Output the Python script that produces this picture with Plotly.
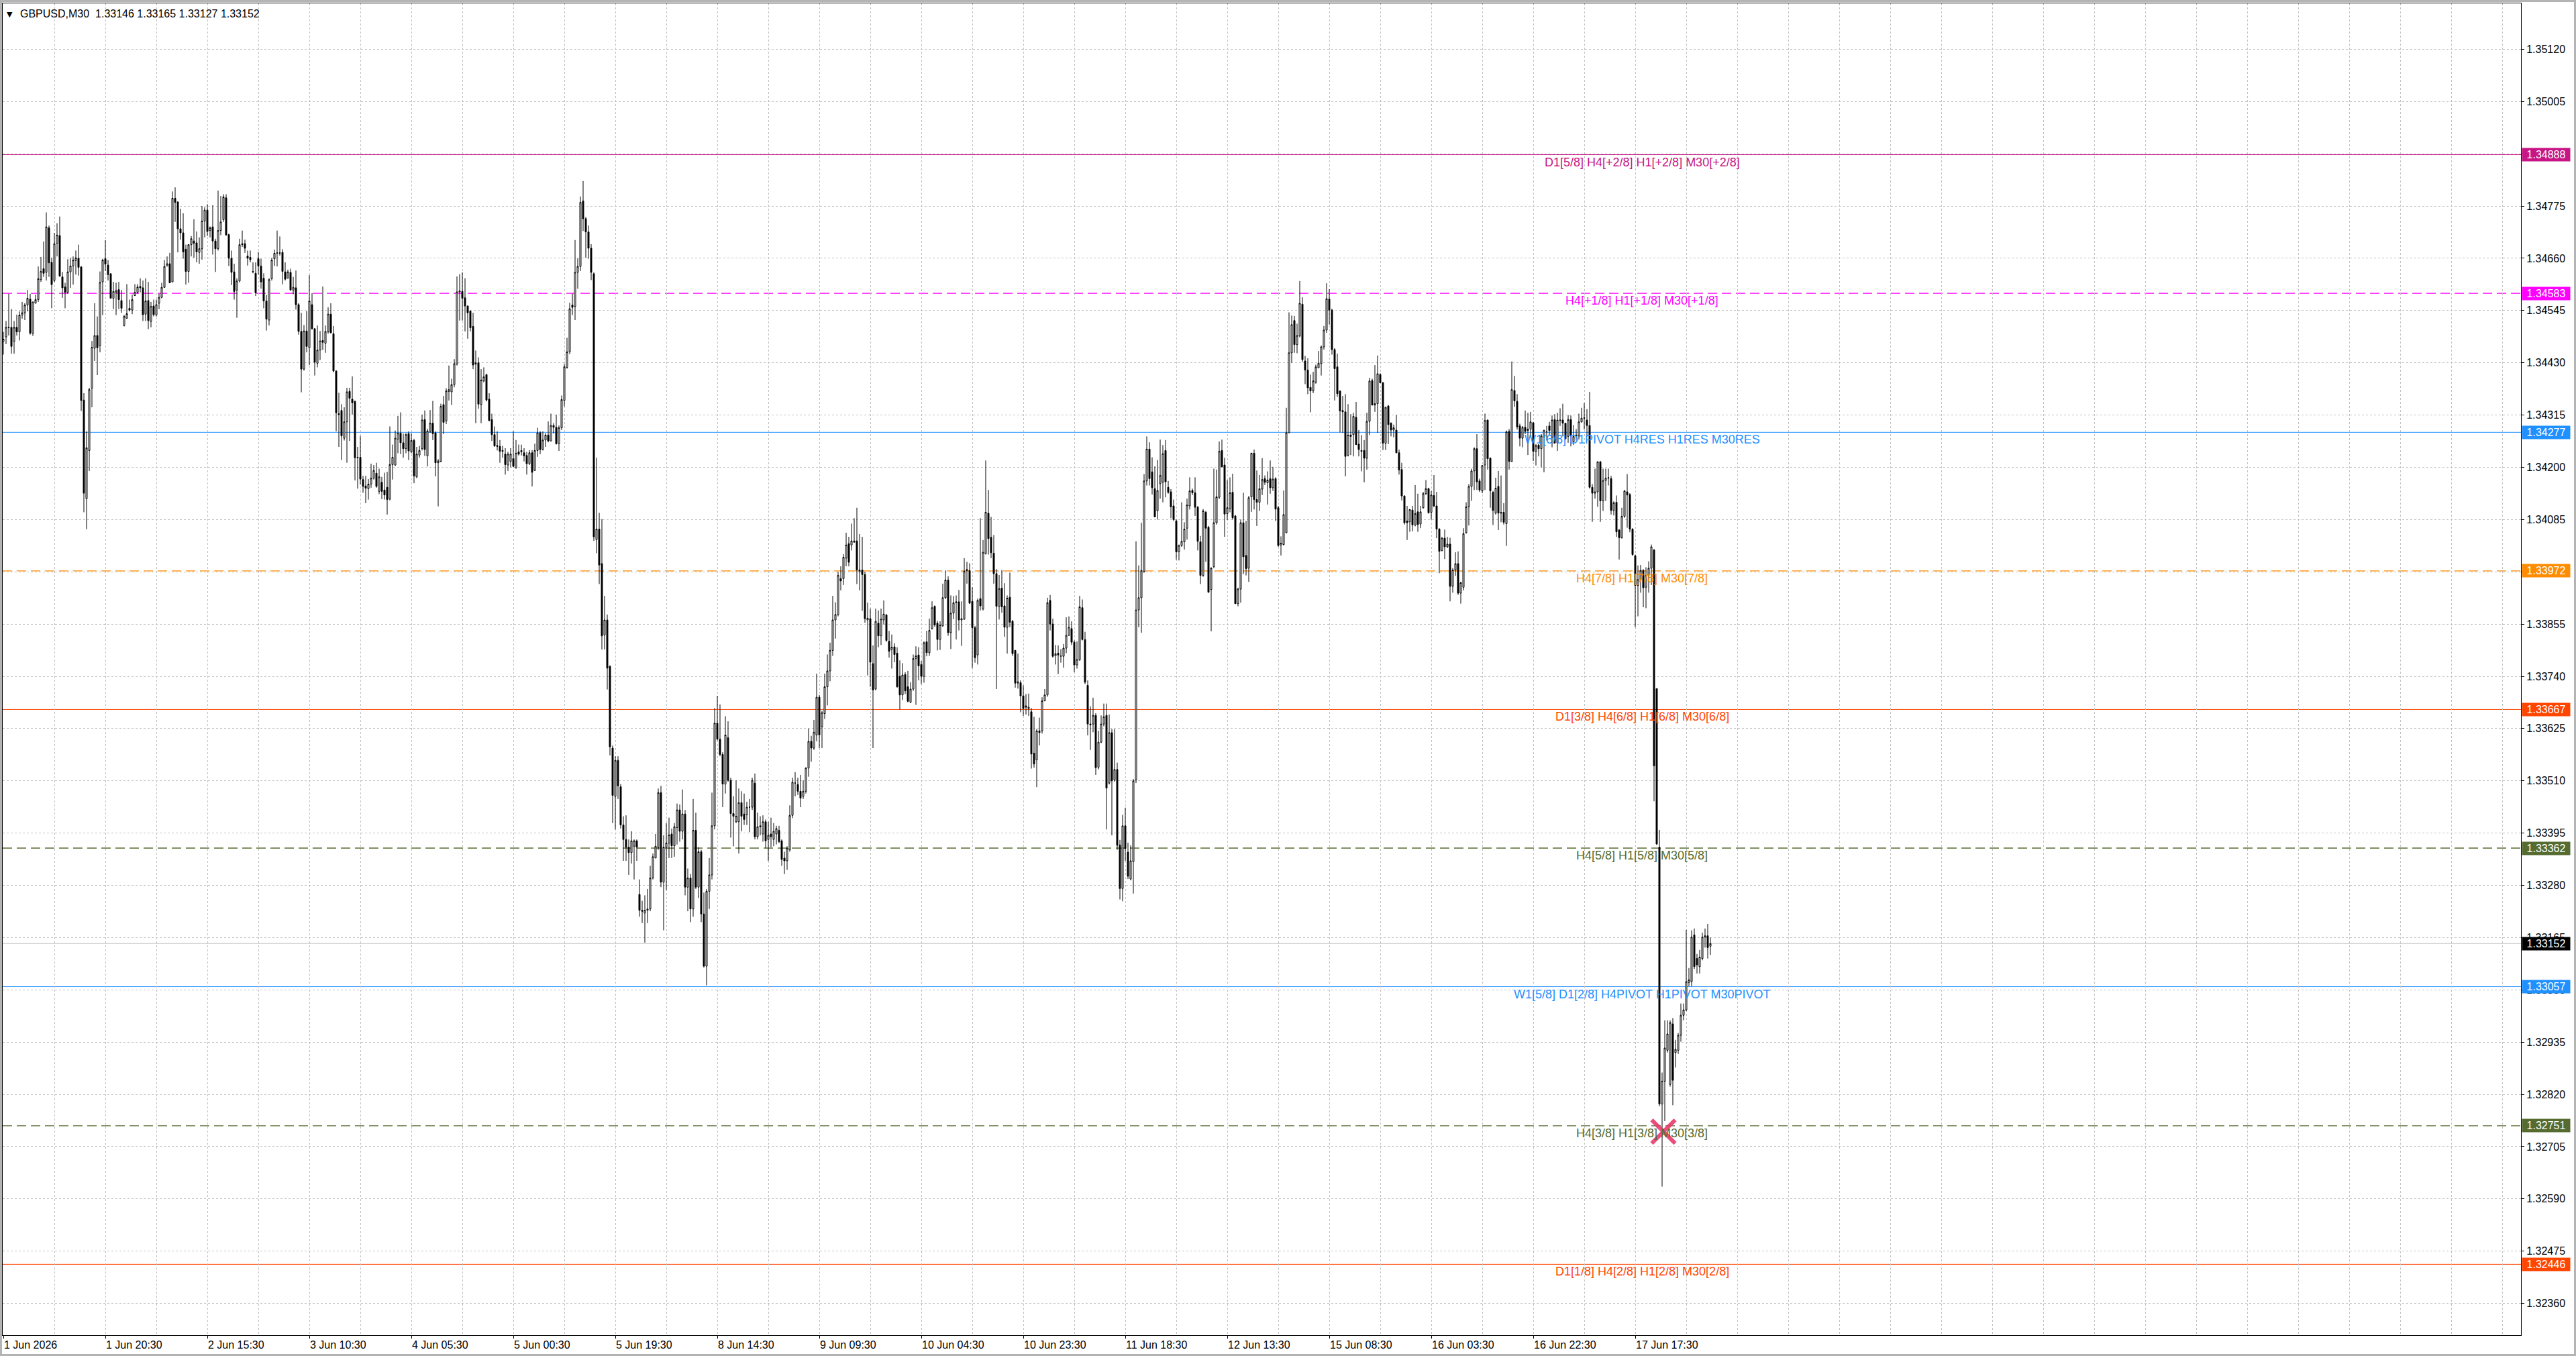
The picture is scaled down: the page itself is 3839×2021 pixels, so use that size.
import plotly.graph_objects as go

# GBPUSD M30 candles, in points above 1.30000 (1 point = 0.00001)
open_pts = [
    4477, 4487, 4507, 4508, 4477, 4508, 4498, 4535, 4540, 4557, 4570, 4495, 4561, 4569, 4613, 4637, 4629, 4727, 4651, 4611,
    4693, 4710, 4619, 4597, 4585, 4630, 4643, 4655, 4660, 4641, 4348, 4131, 4237, 4374, 4462, 4490, 4468, 4608, 4659, 4645,
    4626, 4572, 4585, 4591, 4567, 4512, 4528, 4550, 4546, 4578, 4585, 4598, 4595, 4537, 4567, 4521, 4555, 4535, 4561, 4574,
    4596, 4643, 4648, 4608, 4792, 4784, 4725, 4716, 4680, 4631, 4690, 4698, 4694, 4673, 4681, 4742, 4766, 4721, 4729, 4698,
    4681, 4721, 4745, 4793, 4712, 4660, 4630, 4590, 4610, 4692, 4692, 4665, 4662, 4631, 4627, 4659, 4643, 4616, 4566, 4524,
    4615, 4659, 4671, 4672, 4673, 4630, 4616, 4629, 4590, 4595, 4558, 4499, 4416, 4500, 4463, 4558, 4505, 4429, 4458, 4479,
    4473, 4498, 4537, 4494, 4412, 4318, 4325, 4264, 4300, 4367, 4350, 4345, 4222, 4222, 4173, 4159, 4153, 4163, 4176, 4187,
    4147, 4167, 4150, 4156, 4130, 4206, 4205, 4262, 4275, 4254, 4241, 4274, 4234, 4259, 4179, 4227, 4241, 4305, 4225, 4279,
    4297, 4276, 4210, 4213, 4338, 4302, 4367, 4366, 4382, 4427, 4586, 4587, 4573, 4555, 4544, 4510, 4427, 4430, 4338, 4390,
    4404, 4350, 4305, 4272, 4248, 4246, 4235, 4229, 4205, 4213, 4219, 4199, 4234, 4234, 4232, 4226, 4208, 4232, 4193, 4237,
    4276, 4239, 4260, 4271, 4258, 4292, 4288, 4252, 4287, 4347, 4420, 4454, 4557, 4554, 4629, 4642, 4786, 4747, 4718, 4682,
    4626, 4041, 4064, 3988, 3831, 3864, 3762, 3582, 3476, 3555, 3497, 3413, 3381, 3364, 3352, 3366, 3378, 3260, 3225, 3219,
    3225, 3228, 3296, 3340, 3364, 3484, 3287, 3364, 3373, 3393, 3367, 3407, 3446, 3399, 3437, 3276, 3296, 3228, 3401, 3276,
    3354, 3217, 3102, 3267, 3303, 3411, 3637, 3602, 3568, 3503, 3605, 3511, 3438, 3420, 3420, 3462, 3437, 3435, 3452, 3452,
    3505, 3387, 3411, 3393, 3420, 3381, 3393, 3381, 3393, 3401, 3378, 3340, 3334, 3358, 3434, 3505, 3502, 3487, 3476, 3487,
    3538, 3597, 3582, 3611, 3694, 3629, 3658, 3717, 3752, 3797, 3864, 3876, 3955, 3955, 4000, 4032, 4029, 4035, 4038, 3970,
    3974, 3964, 3864, 3867, 3768, 3712, 3857, 3829, 3864, 3875, 3817, 3799, 3805, 3791, 3740, 3699, 3744, 3717, 3683, 3712,
    3779, 3787, 3766, 3740, 3816, 3792, 3845, 3894, 3857, 3821, 3851, 3913, 3952, 3836, 3879, 3902, 3904, 3864, 3866, 3975,
    3973, 3905, 3847, 3787, 3911, 3888, 4010, 4099, 4046, 4011, 3966, 3894, 3934, 3895, 3848, 3914, 3861, 3797, 3725, 3726,
    3697, 3675, 3669, 3662, 3571, 3556, 3620, 3620, 3686, 3699, 3907, 3855, 3785, 3791, 3784, 3784, 3802, 3830, 3845, 3815,
    3765, 3776, 3891, 3821, 3720, 3635, 3635, 3654, 3540, 3595, 3635, 3654, 3505, 3616, 3512, 3535, 3369, 3273, 3411, 3353,
    3294, 3332, 3512, 3886, 3913, 3971, 4170, 4240, 4190, 4153, 4104, 4164, 4167, 4237, 4156, 4146, 4115, 4082, 4014, 4028,
    4036, 4066, 4115, 4149, 4144, 4112, 4036, 3962, 4101, 4068, 3931, 3981, 4078, 4134, 4237, 4205, 4098, 4109, 4145, 4093,
    3900, 3932, 4078, 4006, 3978, 4135, 4231, 4129, 4123, 4152, 4175, 4166, 4175, 4155, 4175, 4111, 4029, 4030, 4056, 4276,
    4452, 4523, 4470, 4489, 4559, 4434, 4414, 4376, 4368, 4387, 4419, 4428, 4465, 4502, 4570, 4546, 4459, 4421, 4368, 4325,
    4322, 4226, 4271, 4272, 4310, 4251, 4237, 4237, 4220, 4301, 4391, 4337, 4340, 4404, 4386, 4253, 4335, 4297, 4282, 4282,
    4232, 4195, 4137, 4082, 4080, 4106, 4073, 4102, 4075, 4111, 4142, 4153, 4101, 4138, 4115, 4064, 4017, 4044, 4025, 4031,
    3938, 3974, 3988, 3923, 3936, 4056, 4113, 4158, 4192, 4241, 4170, 4148, 4205, 4304, 4220, 4145, 4099, 4158, 4099, 4101,
    4076, 4279, 4213, 4369, 4345, 4291, 4264, 4288, 4281, 4284, 4298, 4235, 4249, 4241, 4266, 4278, 4291, 4266, 4305, 4254,
    4303, 4304, 4297, 4268, 4305, 4256, 4268, 4269, 4300, 4308, 4304, 4292, 4156, 4143, 4146, 4212, 4126, 4171, 4176, 4175,
    4105, 4123, 4062, 4045, 4092, 4146, 4140, 4064, 4005, 3940, 3953, 3973, 3936, 3962, 3978, 4018, 3713, 3364, 2799, 2849,
    2917, 2842, 2975, 2912, 2917, 2950, 2994, 3006, 3066, 3068, 3171, 3119, 3101, 3119, 3166, 3169, 3146,
]
high_pts = [
    4498, 4522, 4582, 4548, 4522, 4536, 4543, 4564, 4561, 4590, 4582, 4564, 4580, 4642, 4663, 4697, 4761, 4732, 4661, 4716,
    4737, 4752, 4630, 4606, 4658, 4661, 4664, 4677, 4690, 4642, 4363, 4279, 4375, 4478, 4561, 4532, 4631, 4659, 4700, 4656,
    4627, 4608, 4606, 4608, 4590, 4535, 4603, 4569, 4580, 4603, 4603, 4616, 4611, 4616, 4608, 4564, 4569, 4569, 4582, 4606,
    4656, 4664, 4672, 4807, 4816, 4785, 4769, 4759, 4690, 4691, 4709, 4746, 4719, 4706, 4775, 4772, 4779, 4730, 4777, 4703,
    4809, 4797, 4801, 4801, 4714, 4677, 4648, 4616, 4703, 4721, 4701, 4677, 4677, 4651, 4651, 4674, 4659, 4627, 4579, 4616,
    4661, 4679, 4721, 4708, 4680, 4651, 4635, 4637, 4619, 4633, 4561, 4540, 4513, 4544, 4623, 4583, 4506, 4512, 4500, 4598,
    4512, 4552, 4561, 4511, 4413, 4364, 4339, 4332, 4375, 4375, 4400, 4347, 4245, 4269, 4181, 4181, 4174, 4208, 4205, 4210,
    4197, 4179, 4188, 4190, 4290, 4250, 4281, 4313, 4321, 4274, 4275, 4279, 4275, 4263, 4245, 4247, 4316, 4325, 4285, 4326,
    4346, 4279, 4218, 4340, 4357, 4374, 4424, 4395, 4438, 4620, 4625, 4629, 4616, 4556, 4545, 4540, 4457, 4442, 4416, 4420,
    4405, 4363, 4318, 4290, 4279, 4260, 4247, 4242, 4234, 4242, 4279, 4260, 4250, 4250, 4242, 4234, 4238, 4238, 4252, 4287,
    4279, 4279, 4275, 4301, 4318, 4297, 4316, 4292, 4358, 4427, 4485, 4562, 4582, 4700, 4660, 4796, 4830, 4751, 4732, 4691,
    4629, 4221, 4100, 4086, 3917, 3876, 3764, 3588, 3564, 3564, 3503, 3432, 3434, 3381, 3399, 3381, 3381, 3293, 3246, 3258,
    3272, 3323, 3350, 3393, 3493, 3499, 3390, 3417, 3429, 3405, 3417, 3460, 3458, 3491, 3446, 3317, 3305, 3470, 3440, 3364,
    3358, 3264, 3272, 3340, 3484, 3670, 3697, 3678, 3573, 3652, 3641, 3517, 3476, 3511, 3493, 3487, 3482, 3464, 3470, 3517,
    3526, 3440, 3432, 3434, 3425, 3420, 3429, 3417, 3411, 3411, 3381, 3354, 3366, 3456, 3517, 3529, 3517, 3523, 3511, 3540,
    3625, 3609, 3644, 3746, 3699, 3664, 3746, 3788, 3814, 3917, 3903, 3970, 3982, 4009, 4056, 4047, 4076, 4088, 4111, 4053,
    4047, 3970, 3902, 3889, 3808, 3889, 3885, 3889, 3907, 3877, 3840, 3832, 3813, 3804, 3775, 3769, 3749, 3752, 3727, 3788,
    3806, 3804, 3774, 3817, 3840, 3867, 3905, 3896, 3862, 3861, 3944, 3973, 3960, 3918, 3917, 3918, 3930, 3905, 4000, 3992,
    3989, 3936, 3851, 3911, 4088, 4040, 4215, 4150, 4091, 4051, 3976, 3963, 3974, 3945, 3918, 3968, 3864, 3798, 3790, 3731,
    3720, 3701, 3702, 3670, 3651, 3624, 3649, 3694, 3712, 3913, 3919, 3867, 3809, 3808, 3800, 3811, 3870, 3872, 3861, 3819,
    3817, 3917, 3909, 3838, 3731, 3674, 3693, 3659, 3620, 3654, 3680, 3680, 3656, 3624, 3624, 3550, 3380, 3435, 3451, 3374,
    3368, 3514, 4037, 3984, 4078, 4185, 4268, 4255, 4222, 4202, 4216, 4261, 4249, 4260, 4170, 4152, 4129, 4085, 4030, 4123,
    4079, 4131, 4178, 4153, 4178, 4115, 4049, 4108, 4104, 4071, 3980, 4197, 4195, 4257, 4261, 4221, 4172, 4178, 4186, 4095,
    3935, 4085, 4144, 4082, 4137, 4232, 4239, 4193, 4183, 4220, 4182, 4191, 4215, 4201, 4178, 4115, 4048, 4149, 4331, 4541,
    4534, 4533, 4516, 4610, 4574, 4445, 4440, 4404, 4410, 4426, 4456, 4468, 4511, 4605, 4592, 4549, 4462, 4450, 4369, 4357,
    4361, 4339, 4317, 4320, 4344, 4282, 4271, 4260, 4320, 4397, 4395, 4425, 4446, 4407, 4388, 4333, 4337, 4299, 4294, 4315,
    4239, 4210, 4138, 4115, 4108, 4115, 4161, 4142, 4115, 4146, 4172, 4155, 4148, 4183, 4146, 4066, 4047, 4063, 4047, 4045,
    3978, 4013, 4015, 3948, 4066, 4123, 4163, 4197, 4244, 4273, 4175, 4205, 4318, 4305, 4222, 4148, 4177, 4192, 4182, 4121,
    4281, 4284, 4433, 4401, 4361, 4296, 4291, 4325, 4320, 4322, 4300, 4251, 4251, 4273, 4283, 4291, 4300, 4314, 4317, 4320,
    4330, 4340, 4298, 4315, 4314, 4293, 4284, 4318, 4331, 4341, 4328, 4366, 4163, 4197, 4213, 4214, 4197, 4197, 4197, 4181,
    4125, 4138, 4064, 4111, 4150, 4185, 4143, 4066, 4008, 3984, 3985, 3976, 3980, 3993, 4030, 4020, 3713, 3402, 2868, 2983,
    2983, 2983, 2988, 2940, 2955, 3020, 3020, 3182, 3098, 3181, 3185, 3129, 3138, 3176, 3185, 3195, 3165,
]
low_pts = [
    4448, 4471, 4490, 4450, 4450, 4490, 4479, 4527, 4524, 4543, 4492, 4489, 4561, 4564, 4608, 4619, 4611, 4619, 4550, 4608,
    4664, 4619, 4573, 4550, 4582, 4595, 4602, 4624, 4622, 4324, 4101, 4064, 4192, 4332, 4434, 4403, 4453, 4535, 4632, 4611,
    4572, 4548, 4535, 4548, 4540, 4510, 4527, 4543, 4537, 4577, 4582, 4585, 4522, 4522, 4504, 4508, 4532, 4532, 4548, 4572,
    4595, 4642, 4605, 4607, 4740, 4673, 4701, 4659, 4602, 4606, 4664, 4661, 4651, 4648, 4657, 4706, 4709, 4706, 4668, 4630,
    4677, 4711, 4740, 4710, 4643, 4601, 4569, 4529, 4607, 4685, 4672, 4644, 4651, 4627, 4577, 4624, 4593, 4550, 4501, 4512,
    4611, 4643, 4642, 4666, 4603, 4611, 4616, 4589, 4581, 4547, 4492, 4365, 4413, 4453, 4425, 4503, 4402, 4420, 4436, 4458,
    4452, 4494, 4495, 4409, 4279, 4245, 4216, 4259, 4210, 4258, 4316, 4171, 4153, 4162, 4144, 4121, 4129, 4155, 4173, 4155,
    4141, 4130, 4129, 4096, 4127, 4173, 4203, 4231, 4229, 4221, 4231, 4216, 4231, 4165, 4176, 4221, 4237, 4225, 4202, 4276,
    4260, 4180, 4114, 4211, 4273, 4295, 4347, 4337, 4376, 4424, 4523, 4523, 4499, 4483, 4499, 4416, 4297, 4329, 4297, 4387,
    4345, 4301, 4258, 4245, 4237, 4210, 4221, 4184, 4192, 4200, 4201, 4197, 4226, 4226, 4213, 4184, 4205, 4158, 4192, 4223,
    4229, 4237, 4245, 4255, 4257, 4274, 4250, 4236, 4282, 4334, 4417, 4449, 4535, 4524, 4593, 4632, 4720, 4661, 4659, 4612,
    4038, 4011, 3943, 3799, 3799, 3711, 3566, 3417, 3403, 3470, 3405, 3334, 3334, 3303, 3328, 3293, 3334, 3211, 3197, 3154,
    3197, 3223, 3293, 3340, 3358, 3276, 3181, 3270, 3340, 3340, 3343, 3370, 3376, 3381, 3258, 3223, 3199, 3211, 3272, 3252,
    3199, 3099, 3060, 3228, 3293, 3403, 3599, 3564, 3452, 3482, 3508, 3385, 3366, 3417, 3350, 3399, 3413, 3413, 3397, 3446,
    3381, 3381, 3390, 3376, 3362, 3334, 3364, 3366, 3370, 3373, 3323, 3305, 3314, 3354, 3428, 3476, 3479, 3452, 3470, 3482,
    3519, 3552, 3578, 3597, 3582, 3582, 3646, 3676, 3729, 3785, 3823, 3872, 3929, 3941, 3982, 3982, 4017, 4035, 3943, 3929,
    3884, 3858, 3742, 3717, 3582, 3709, 3804, 3809, 3854, 3816, 3781, 3757, 3771, 3715, 3667, 3688, 3701, 3683, 3681, 3708,
    3677, 3731, 3723, 3726, 3784, 3785, 3843, 3849, 3797, 3798, 3849, 3910, 3829, 3800, 3866, 3821, 3841, 3807, 3864, 3944,
    3899, 3758, 3770, 3766, 3885, 3885, 4008, 4008, 4000, 3944, 3712, 3865, 3880, 3827, 3790, 3848, 3785, 3715, 3713, 3661,
    3653, 3656, 3653, 3537, 3539, 3496, 3588, 3614, 3685, 3695, 3841, 3781, 3766, 3745, 3770, 3759, 3791, 3829, 3809, 3749,
    3757, 3774, 3819, 3723, 3610, 3578, 3617, 3523, 3535, 3593, 3630, 3403, 3502, 3390, 3508, 3358, 3249, 3245, 3334, 3294,
    3291, 3262, 3505, 3848, 3836, 3968, 4160, 4160, 4140, 4090, 4085, 4131, 4123, 4134, 4142, 4088, 4082, 3997, 3995, 4025,
    4019, 4041, 4107, 4139, 4093, 4017, 3943, 3959, 3992, 3924, 3839, 3978, 4074, 4130, 4200, 4047, 4084, 4101, 4085, 3899,
    3894, 3902, 3965, 3962, 3948, 4102, 4107, 4071, 4104, 4139, 4161, 4118, 4142, 4148, 4082, 4025, 4006, 4028, 4055, 4275,
    4430, 4452, 4451, 4486, 4432, 4383, 4361, 4321, 4363, 4384, 4418, 4402, 4459, 4496, 4514, 4448, 4347, 4355, 4277, 4276,
    4180, 4224, 4227, 4224, 4249, 4224, 4191, 4167, 4195, 4271, 4336, 4322, 4276, 4385, 4238, 4238, 4251, 4268, 4266, 4231,
    4184, 4127, 4074, 4040, 4058, 4059, 4070, 4058, 4066, 4109, 4139, 4098, 4085, 4112, 4044, 3967, 4015, 3998, 4022, 3905,
    3924, 3961, 3919, 3900, 3929, 4054, 4072, 4126, 4150, 4150, 4146, 4143, 4150, 4195, 4111, 4073, 4096, 4062, 4079, 4074,
    4027, 4195, 4212, 4333, 4283, 4246, 4244, 4273, 4227, 4266, 4214, 4204, 4224, 4200, 4189, 4259, 4270, 4244, 4251, 4236,
    4291, 4268, 4261, 4254, 4246, 4249, 4259, 4261, 4298, 4283, 4268, 4153, 4080, 4131, 4113, 4080, 4104, 4126, 4160, 4096,
    4094, 4047, 3997, 4043, 4089, 4067, 4057, 4005, 3848, 3872, 3924, 3892, 3890, 3924, 3941, 3465, 3369, 2794, 2617, 2761,
    2912, 2837, 2796, 2879, 2909, 2936, 2983, 3003, 3058, 3058, 3096, 3086, 3086, 3115, 3143, 3119, 3127,
]
close_pts = [
    4482, 4508, 4508, 4466, 4508, 4498, 4535, 4540, 4557, 4572, 4495, 4564, 4569, 4615, 4631, 4627, 4729, 4650, 4602, 4692,
    4711, 4621, 4595, 4585, 4630, 4643, 4656, 4661, 4640, 4347, 4143, 4243, 4371, 4464, 4490, 4463, 4607, 4656, 4647, 4624,
    4572, 4587, 4589, 4569, 4550, 4532, 4538, 4546, 4569, 4585, 4597, 4595, 4536, 4566, 4523, 4554, 4536, 4558, 4574, 4596,
    4642, 4648, 4606, 4792, 4783, 4725, 4716, 4674, 4631, 4690, 4703, 4693, 4674, 4681, 4742, 4766, 4719, 4727, 4698, 4681,
    4721, 4740, 4795, 4711, 4660, 4629, 4587, 4610, 4690, 4690, 4682, 4660, 4657, 4630, 4584, 4643, 4608, 4566, 4526, 4613,
    4656, 4671, 4672, 4671, 4631, 4614, 4630, 4590, 4596, 4558, 4499, 4416, 4500, 4466, 4566, 4505, 4431, 4458, 4478, 4475,
    4499, 4537, 4496, 4412, 4320, 4316, 4269, 4300, 4366, 4352, 4342, 4221, 4221, 4174, 4158, 4154, 4163, 4176, 4193, 4158,
    4179, 4147, 4139, 4129, 4206, 4222, 4264, 4275, 4254, 4241, 4272, 4236, 4259, 4181, 4229, 4237, 4304, 4239, 4280, 4297,
    4274, 4210, 4214, 4334, 4299, 4368, 4371, 4382, 4428, 4586, 4588, 4572, 4555, 4540, 4507, 4425, 4430, 4339, 4392, 4399,
    4348, 4303, 4272, 4247, 4246, 4235, 4237, 4206, 4229, 4229, 4202, 4231, 4229, 4237, 4225, 4208, 4232, 4189, 4237, 4276,
    4239, 4260, 4271, 4258, 4292, 4288, 4252, 4287, 4349, 4421, 4454, 4549, 4552, 4629, 4642, 4783, 4747, 4718, 4682, 4629,
    4047, 4064, 3985, 3829, 3864, 3758, 3585, 3478, 3555, 3499, 3413, 3381, 3364, 3352, 3378, 3378, 3364, 3225, 3223, 3225,
    3228, 3296, 3343, 3366, 3484, 3287, 3364, 3373, 3391, 3367, 3409, 3446, 3399, 3437, 3276, 3296, 3228, 3401, 3276, 3354,
    3217, 3102, 3267, 3303, 3411, 3637, 3602, 3568, 3503, 3611, 3511, 3438, 3432, 3432, 3462, 3432, 3425, 3452, 3452, 3511,
    3387, 3409, 3409, 3420, 3378, 3390, 3387, 3399, 3405, 3376, 3337, 3334, 3362, 3434, 3507, 3505, 3487, 3472, 3487, 3538,
    3597, 3582, 3617, 3694, 3611, 3660, 3717, 3752, 3797, 3864, 3876, 3962, 3950, 4002, 4029, 3991, 4038, 4038, 3974, 3974,
    3964, 3867, 3868, 3771, 3710, 3861, 3829, 3866, 3877, 3819, 3795, 3804, 3788, 3717, 3699, 3743, 3708, 3685, 3712, 3779,
    3785, 3763, 3740, 3814, 3792, 3841, 3891, 3853, 3821, 3853, 3913, 3952, 3836, 3879, 3902, 3904, 3864, 3867, 3971, 3973,
    3901, 3847, 3781, 3907, 3895, 4013, 4101, 4043, 4012, 3966, 3894, 3933, 3893, 3848, 3912, 3859, 3790, 3725, 3728, 3697,
    3669, 3672, 3672, 3569, 3547, 3620, 3616, 3686, 3699, 3902, 3855, 3784, 3790, 3787, 3785, 3802, 3830, 3848, 3815, 3765,
    3777, 3893, 3821, 3727, 3635, 3633, 3654, 3539, 3595, 3635, 3651, 3494, 3616, 3510, 3535, 3368, 3273, 3411, 3361, 3300,
    3334, 3510, 3886, 3913, 3973, 4170, 4240, 4175, 4155, 4091, 4149, 4182, 4230, 4168, 4145, 4113, 4085, 4014, 4028, 4037,
    4064, 4117, 4148, 4144, 4112, 4037, 3962, 4104, 4066, 3925, 3978, 4078, 4135, 4235, 4201, 4097, 4111, 4144, 4089, 3900,
    3932, 4078, 4003, 3977, 4133, 4231, 4129, 4123, 4153, 4173, 4167, 4172, 4155, 4174, 4108, 4028, 4033, 4096, 4276, 4452,
    4514, 4470, 4490, 4561, 4437, 4414, 4375, 4368, 4390, 4421, 4429, 4465, 4502, 4571, 4546, 4459, 4417, 4362, 4324, 4322,
    4224, 4271, 4268, 4312, 4250, 4239, 4235, 4220, 4301, 4390, 4337, 4340, 4406, 4386, 4253, 4332, 4294, 4282, 4287, 4232,
    4194, 4137, 4078, 4078, 4107, 4073, 4098, 4074, 4102, 4142, 4153, 4100, 4139, 4115, 4064, 4015, 4044, 4025, 4031, 3938,
    3974, 3988, 3923, 3946, 4054, 4113, 4158, 4192, 4241, 4168, 4150, 4204, 4303, 4219, 4148, 4105, 4154, 4099, 4101, 4079,
    4278, 4213, 4371, 4346, 4289, 4264, 4288, 4279, 4284, 4300, 4235, 4248, 4241, 4269, 4281, 4278, 4281, 4304, 4254, 4304,
    4304, 4297, 4263, 4305, 4269, 4268, 4271, 4300, 4308, 4309, 4292, 4156, 4143, 4146, 4212, 4126, 4171, 4176, 4177, 4105,
    4122, 4058, 4045, 4092, 4148, 4139, 4064, 4008, 3940, 3953, 3973, 3935, 3962, 3978, 4025, 3543, 3371, 2799, 2849, 2922,
    2953, 2978, 2851, 2919, 2950, 2994, 3006, 3068, 3072, 3166, 3101, 3105, 3122, 3166, 3169, 3143, 3152,
]

# one label every 38 bars (19 hours of M30), weekends skipped
time_labels = [
    "1 Jun 2026", "1 Jun 20:30", "2 Jun 15:30", "3 Jun 10:30", "4 Jun 05:30", "5 Jun 00:30",
    "5 Jun 19:30", "8 Jun 14:30", "9 Jun 09:30", "10 Jun 04:30", "10 Jun 23:30", "11 Jun 18:30",
    "12 Jun 13:30", "15 Jun 08:30", "16 Jun 03:30", "16 Jun 22:30", "17 Jun 17:30",
]
price_ticks = [
    1.32360, 1.32475, 1.32590, 1.32705, 1.32820, 1.32935, 1.33050, 1.33165, 1.33280, 1.33395,
    1.33510, 1.33625, 1.33740, 1.33855, 1.33970, 1.34085, 1.34200, 1.34315, 1.34430, 1.34545,
    1.34660, 1.34775, 1.34890, 1.35005, 1.35120,
]

# murrey / pivot levels drawn on the chart
level_prices = [1.34888, 1.34583, 1.34277, 1.33972, 1.33667, 1.33362, 1.33057, 1.32751, 1.32446]
level_texts = [
    "D1[5/8] H4[+2/8] H1[+2/8] M30[+2/8]",
    "H4[+1/8] H1[+1/8] M30[+1/8]",
    "W1[6/8] D1PIVOT H4RES H1RES M30RES",
    "H4[7/8] H1[7/8] M30[7/8]",
    "D1[3/8] H4[6/8] H1[6/8] M30[6/8]",
    "H4[5/8] H1[5/8] M30[5/8]",
    "W1[5/8] D1[2/8] H4PIVOT H1PIVOT M30PIVOT",
    "H4[3/8] H1[3/8] M30[3/8]",
    "D1[1/8] H4[2/8] H1[2/8] M30[2/8]",
]
level_colors = ["#C71585", "#FF00FF", "#1E90FF", "#FF8C00", "#FF4500",
                "#556B2F", "#1E90FF", "#556B2F", "#FF4500"]
level_dashed = [False, True, False, True, False, True, False, True, False]

# red cross marker near the low of 17 Jun
cross_bar = [618.5]
cross_price = [1.32738]

n = len(open_pts)
assert n == len(high_pts) == len(low_pts) == len(close_pts)

bars = list(range(n))
o = [1.3 + v / 1e5 for v in open_pts]
c = [1.3 + v / 1e5 for v in close_pts]
h = [max(1.3 + v / 1e5, a, b) for v, a, b in zip(high_pts, o, c)]
l = [min(1.3 + v / 1e5, a, b) for v, a, b in zip(low_pts, o, c)]
bid = c[-1]

FONT = "Liberation Sans, Arial, sans-serif"
GRID = "#C0C0C0"

fig = go.Figure()

fig.add_trace(go.Candlestick(
    x=bars, open=o, high=h, low=l, close=c,
    increasing=dict(line=dict(color="black", width=1), fillcolor="white"),
    decreasing=dict(line=dict(color="black", width=1), fillcolor="black"),
    whiskerwidth=0, hoverinfo="skip", showlegend=False,
))

fig.add_trace(go.Scatter(
    x=cross_bar, y=cross_price, mode="markers", hoverinfo="skip", showlegend=False,
    marker=dict(symbol="x-thin", size=35, line=dict(width=6, color="rgba(232,54,104,0.88)")),
))

shapes = []
annotations = []
for price, text, color, dashed in zip(level_prices, level_texts, level_colors, level_dashed):
    shapes.append(dict(type="line", xref="paper", x0=0, x1=1, yref="y", y0=price, y1=price,
                       layer="below", line=dict(color=color, width=1.3 if dashed else 1,
                                                dash="14px,7px" if dashed else "solid")))
    annotations.append(dict(x=610.5, y=price, xref="x", yref="y", text=text, showarrow=False,
                            xanchor="center", yanchor="top", yshift=1,
                            font=dict(family=FONT, size=18, color=color)))
    annotations.append(dict(x=1, y=price, xref="paper", yref="y", text=f"{price:.5f}", showarrow=False,
                            xanchor="left", yanchor="middle", xshift=1, width=69, height=17, borderpad=1,
                            bgcolor=color, font=dict(family=FONT, size=16, color="white")))

# bid line and its label
shapes.append(dict(type="line", xref="paper", x0=0, x1=1, yref="y", y0=bid, y1=bid,
                   layer="below", line=dict(color="#C0C0C0", width=1)))
annotations.append(dict(x=1, y=bid, xref="paper", yref="y", text=f"{bid:.5f}", showarrow=False,
                        xanchor="left", yanchor="middle", xshift=1, width=69, height=17, borderpad=1,
                        bgcolor="black", font=dict(family=FONT, size=16, color="white")))

# symbol header
annotations.append(dict(x=0, y=1, xref="paper", yref="paper", text="\u25BC", showarrow=False,
                        xanchor="left", yanchor="top", xshift=4, yshift=-8,
                        font=dict(family="DejaVu Sans", size=11, color="black")))
annotations.append(dict(x=0, y=1, xref="paper", yref="paper",
                        text=f"GBPUSD,M30  {o[-1]:.5f} {h[-1]:.5f} {l[-1]:.5f} {c[-1]:.5f}",
                        showarrow=False, xanchor="left", yanchor="top", xshift=24, yshift=-5,
                        font=dict(family=FONT, size=16, color="black")))

# grey window frame
shapes.append(dict(type="rect", xref="paper", yref="paper", x0=-4 / 3753, x1=3835 / 3753,
                   y0=-31 / 1985, y1=1 + 5 / 1985, line=dict(color="#B4B4B4", width=6), layer="above"))

fig.update_layout(
    width=3839, height=2021,
    margin=dict(l=4, r=82, t=5, b=31),
    paper_bgcolor="white", plot_bgcolor="white",
    font=dict(family=FONT, size=16, color="black"),
    shapes=shapes, annotations=annotations,
    showlegend=False,
)

fig.update_xaxes(
    range=[-0.25, 938], rangeslider=dict(visible=False),
    tickmode="array", tickvals=[38 * i for i in range(len(time_labels))], ticktext=time_labels,
    ticks="outside", ticklen=4, tickcolor="black", ticklabelposition="outside right",
    tickfont=dict(family=FONT, size=16, color="black"),
    showline=True, linecolor="black", linewidth=1, mirror=True,
    showgrid=True, gridcolor=GRID, griddash="3px,3px", gridwidth=1, zeroline=False,
    minor=dict(tick0=0, dtick=19, showgrid=True, gridcolor=GRID, griddash="3px,3px", ticks=""),
)
fig.update_yaxes(
    side="right", range=[1.32290, 1.35221],
    tickmode="array", tickvals=price_ticks, ticktext=[f"{p:.5f}" for p in price_ticks],
    ticks="outside", ticklen=4, tickcolor="black",
    tickfont=dict(family=FONT, size=16, color="black"),
    showline=True, linecolor="black", linewidth=1, mirror=True,
    showgrid=True, gridcolor=GRID, griddash="3px,3px", gridwidth=1, zeroline=False,
)

fig.write_html("out.html", config={"displayModeBar": False},
               post_script="document.body.style.margin='0';")
